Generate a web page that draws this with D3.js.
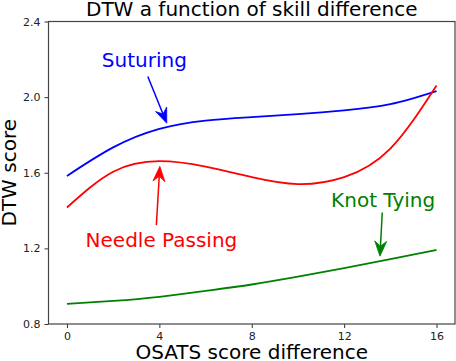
<!DOCTYPE html>
<html>
<head>
<meta charset="utf-8">
<script src="https://cdn.jsdelivr.net/npm/d3@7"></script>
<style>
body { margin: 0; background: #fff; }
svg { display: block; font-family: "DejaVu Sans", sans-serif; }
</style>
</head>
<body>
<div id="chart"></div>
<script>
// valeurs
var xs = [0, 2, 4, 6, 8, 10, 12, 14, 16]
var suturing = [1.583, 1.734, 1.832, 1.876, 1.894, 1.910, 1.930, 1.963, 2.032]
var needle = [1.416, 1.605, 1.661, 1.632, 1.577, 1.540, 1.577, 1.728, 2.062]
var knot = [0.906, 0.922, 0.944, 0.975, 1.009, 1.050, 1.095, 1.143, 1.192]

var xTicks = [0, 4, 8, 12, 16]
var yTicks = [0.8, 1.2, 1.6, 2.0, 2.4]

var series = [
    {name: "Suturing", color: "#0000ff", values: suturing},
    {name: "Needle Passing", color: "#ff0000", values: needle},
    {name: "Knot Tying", color: "#008000", values: knot}
]

// annotations: texte, position du texte, départ et pointe de la flèche (coord. données)
var notes = [
    {text: "Suturing", color: "#0000ff", at: [3.35, 2.157], from: [3.50, 2.109], to: [4.32, 1.862]},
    {text: "Needle Passing", color: "#ff0000", at: [4.09, 1.208], from: [3.87, 1.323], to: [4.02, 1.634]},
    {text: "Knot Tying", color: "#008000", at: [13.69, 1.419], from: [13.65, 1.39], to: [13.55, 1.159]}
]

var w = 456, h = 361
var mLeft = 48.5, mRight = 455, mTop = 21.5, mBottom = 324

var x = d3.scaleLinear().domain([-0.8, 16.8]).range([mLeft, mRight])
var y = d3.scaleLinear().domain([0.8, 2.4]).range([mBottom, mTop])

var svg = d3.select("#chart").append("svg")
    .attr("width", w)
    .attr("height", h)

svg.append("rect")
    .attr("width", w).attr("height", h)
    .attr("fill", "#fff")

/* courbes */
var line = d3.line()
    .x(function(d) { return x(d[0]) })
    .y(function(d) { return y(d[1]) })
    .curve(d3.curveNatural)

svg.append("g").selectAll("path")
    .data(series)
    .enter().append("path")
    .attr("d", function(s) {
        return line(xs.map(function(v, i) { return [v, s.values[i]] }))
    })
    .attr("fill", "none")
    .attr("stroke", function(s) { return s.color })
    .attr("stroke-width", 1.8)

/* axes */
var xAxis = svg.append("g")
    .attr("transform", "translate(0," + mBottom + ")")
    .call(d3.axisBottom(x).tickValues(xTicks).tickSize(4).tickPadding(4).tickSizeOuter(0))
var yAxis = svg.append("g")
    .attr("transform", "translate(" + mLeft + ",0)")
    .call(d3.axisLeft(y).tickValues(yTicks).tickFormat(d3.format(".1f")).tickSize(4).tickPadding(4).tickSizeOuter(0))

svg.selectAll(".domain").remove()
svg.selectAll(".tick line").attr("stroke", "#333").attr("stroke-width", 1)
svg.selectAll(".tick text")
    .attr("fill", "#222")
    .style("font-size", "11px")
    .style("font-family", "DejaVu Sans, sans-serif")

// cadre
svg.append("rect")
    .attr("x", mLeft).attr("y", mTop)
    .attr("width", mRight - mLeft).attr("height", mBottom - mTop)
    .attr("fill", "none")
    .attr("stroke", "#444")
    .attr("stroke-width", 1.2)

/* annotations */
function fleche(g, p0, p1, color) {
    var L = 15, W = 6, N = 10
    var dx = p1[0] - p0[0], dy = p1[1] - p0[1]
    var len = Math.sqrt(dx * dx + dy * dy)
    var ux = dx / len, uy = dy / len
    var nx = -uy, ny = ux
    g.append("line")
        .attr("x1", p0[0]).attr("y1", p0[1])
        .attr("x2", p1[0] - N * ux).attr("y2", p1[1] - N * uy)
        .attr("stroke", color)
        .attr("stroke-width", 1.5)
    var pts = [
        [p1[0], p1[1]],
        [p1[0] - L * ux + W * nx, p1[1] - L * uy + W * ny],
        [p1[0] - N * ux, p1[1] - N * uy],
        [p1[0] - L * ux - W * nx, p1[1] - L * uy - W * ny]
    ]
    g.append("path")
        .attr("d", "M" + pts.join("L") + "Z")
        .attr("fill", color)
        .attr("stroke", color)
        .attr("stroke-width", 0.8)
}

var ann = svg.append("g")
notes.forEach(function(n) {
    ann.append("text")
        .attr("x", x(n.at[0]))
        .attr("y", y(n.at[1]))
        .attr("text-anchor", "middle")
        .attr("fill", n.color)
        .style("font-size", "20px")
        .text(n.text)
    fleche(ann, [x(n.from[0]), y(n.from[1])], [x(n.to[0]), y(n.to[1])], n.color)
})

/* titres */
svg.append("text")
    .attr("x", (mLeft + mRight) / 2)
    .attr("y", 15.5)
    .attr("text-anchor", "middle")
    .style("font-size", "20px")
    .text("DTW a function of skill difference")

svg.append("text")
    .attr("x", (mLeft + mRight) / 2)
    .attr("y", 359)
    .attr("text-anchor", "middle")
    .style("font-size", "20px")
    .text("OSATS score difference")

svg.append("text")
    .attr("transform", "translate(15.5," + (mTop + mBottom) / 2 + ") rotate(-90)")
    .attr("text-anchor", "middle")
    .style("font-size", "20px")
    .text("DTW score")
</script>
</body>
</html>
